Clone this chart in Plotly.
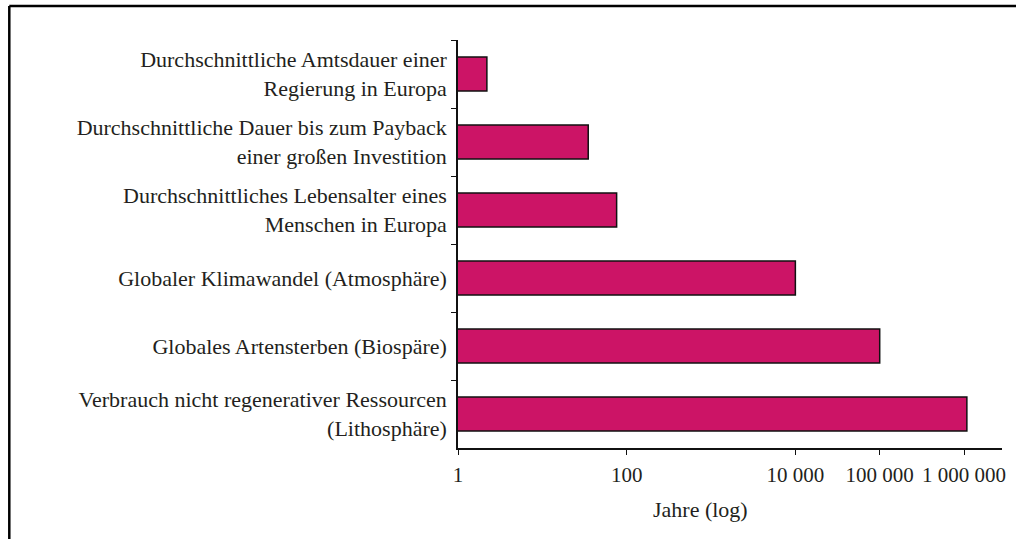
import plotly.graph_objects as go

# Data (years)
categories = [
    "Durchschnittliche Amtsdauer einer<br>Regierung in Europa",
    "Durchschnittliche Dauer bis zum Payback<br>einer großen Investition",
    "Durchschnittliches Lebensalter eines<br>Menschen in Europa",
    "Globaler Klimawandel (Atmosphäre)",
    "Globales Artensterben (Biospäre)",
    "Verbrauch nicht regenerativer Ressourcen<br>(Lithosphäre)",
]
years = [2.2, 35, 76, 10000, 100000, 1080000]
tick_values = [1, 100, 10000, 100000, 1000000]
tick_labels = ["1", "100", "10 000", "100 000", "1 000 000"]

W, H = 1016, 539
L, R, T, B = 458, 10, 40, 91
pw, ph = W - L - R, H - T - B

font = dict(family="Liberation Serif", size=22, color="#231f20")

fig = go.Figure(
    go.Bar(
        x=years,
        y=categories,
        orientation="h",
        marker=dict(color="#cc1466", line=dict(color="#111111", width=1.5)),
        hoverinfo="x+y",
    )
)

fig.update_layout(
    width=W,
    height=H,
    margin=dict(l=L, r=R, t=T, b=B),
    paper_bgcolor="white",
    plot_bgcolor="white",
    font=font,
    bargap=0.5,
    showlegend=False,
    xaxis=dict(
        type="log",
        range=[0, 6.45],
        tickvals=tick_values,
        ticktext=tick_labels,
        tickfont=dict(family="Liberation Serif", size=21, color="#231f20"),
        ticks="outside",
        ticklen=5,
        tickwidth=1.2,
        tickcolor="#111111",
        showline=True,
        linecolor="#111111",
        linewidth=1.5,
        showgrid=False,
        zeroline=False,
        ticklabelstandoff=2,
    ),
    yaxis=dict(
        type="category",
        categoryorder="array",
        categoryarray=categories,
        autorange="reversed",
        ticks="outside",
        tickson="boundaries",
        ticklen=5,
        tickwidth=1.2,
        tickcolor="#111111",
        showline=True,
        linecolor="#111111",
        linewidth=1.5,
        showgrid=False,
        zeroline=False,
        ticklabelstandoff=5,
    ),
    annotations=[
        dict(
            text="Jahre (log)",
            xref="paper",
            yref="paper",
            x=(702 - L) / pw,
            y=-(510 - (H - B)) / ph,
            xanchor="center",
            yanchor="middle",
            showarrow=False,
            font=font,
        )
    ],
    shapes=[
        dict(type="line", xref="paper", yref="paper",
             x0=(6 - L) / pw, x1=(W + 5 - L) / pw,
             y0=1 + (T - 6) / ph, y1=1 + (T - 6) / ph,
             line=dict(color="black", width=2.5)),
        dict(type="line", xref="paper", yref="paper",
             x0=(6 - L) / pw, x1=(6 - L) / pw,
             y0=1 + (T - 6) / ph, y1=-(B + 5) / ph,
             line=dict(color="black", width=2.5)),
    ],
)

fig.write_html(
    "out.html",
    config={"displayModeBar": False},
    post_script="document.body.style.margin='0';",
)
